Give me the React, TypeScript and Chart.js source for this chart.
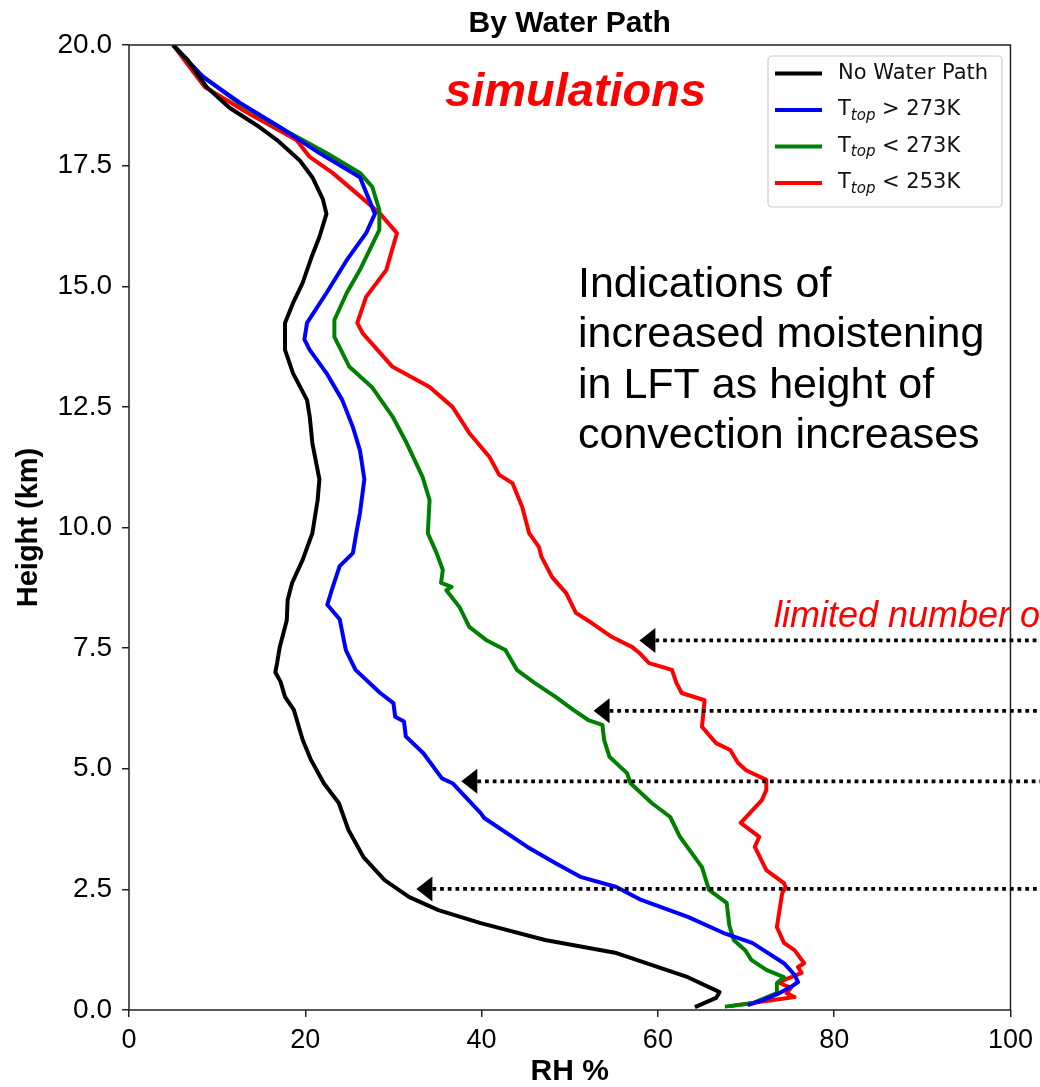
import React, { useEffect, useRef } from "react";
import { Chart, registerables } from "chart.js";

Chart.register(...registerables);

// ---- Data (RH %, height km), bottom to top ----
const blackH = [0.06, 0.25, 0.37, 0.68, 1.18, 1.45, 1.8, 2.07, 2.34, 2.69, 3.17, 3.73, 4.29, 4.7, 5.2, 5.6, 6.22, 6.49, 6.8, 7.0, 7.19, 7.52, 8.08, 8.5, 8.85, 9.33, 9.88, 10.57, 11.0, 11.75, 12.3, 12.64, 13.2, 13.68, 13.95, 14.24, 14.65, 15.07, 15.6, 16.02, 16.5, 16.8, 17.26, 17.6, 18.03, 18.3, 18.7, 19.13, 19.7, 20.0];
const blackRH = [64.2, 66.6, 67.0, 63.4, 55.3, 47.2, 39.9, 35.1, 31.8, 29.0, 26.6, 24.9, 23.8, 22.1, 20.6, 19.7, 18.7, 17.7, 17.2, 16.6, 16.8, 17.1, 17.9, 18.0, 18.5, 19.7, 20.8, 21.4, 21.6, 20.8, 20.5, 20.2, 18.6, 17.7, 17.7, 17.7, 18.6, 19.7, 20.7, 21.6, 22.4, 22.0, 20.8, 19.4, 16.8, 14.8, 11.4, 8.8, 6.6, 5.0];

const blueH = [0.1, 0.21, 0.35, 0.48, 0.58, 0.73, 0.97, 1.39, 1.6, 1.93, 2.28, 2.55, 2.76, 3.04, 3.38, 3.98, 4.08, 4.7, 4.8, 5.32, 5.67, 5.98, 6.08, 6.36, 6.57, 7.05, 7.46, 8.1, 8.4, 8.7, 9.2, 9.47, 9.9, 10.3, 11.0, 11.6, 12.08, 12.64, 13.2, 13.68, 13.9, 14.24, 14.86, 15.54, 16.1, 16.5, 17.26, 17.76, 18.3, 18.8, 19.34, 20.0];
const blueRH = [70.2, 72.0, 73.8, 75.1, 75.9, 75.5, 74.3, 70.7, 67.4, 63.4, 58.1, 55.3, 51.2, 48.4, 45.2, 40.3, 39.9, 36.7, 35.5, 33.4, 31.4, 31.2, 30.2, 30.0, 28.5, 25.7, 24.6, 23.9, 22.5, 23.0, 23.9, 25.4, 25.8, 26.2, 26.7, 26.2, 25.4, 24.2, 22.4, 20.5, 19.9, 20.2, 22.4, 24.7, 26.9, 27.9, 26.2, 21.6, 17.1, 12.6, 8.4, 5.0];

const greenH = [0.07, 0.14, 0.35, 0.56, 0.68, 0.83, 1.04, 1.24, 1.45, 1.76, 2.22, 2.49, 2.96, 3.59, 4.0, 4.29, 4.7, 4.91, 5.25, 5.6, 5.91, 6.01, 6.22, 6.49, 6.78, 7.05, 7.46, 7.67, 7.94, 8.35, 8.7, 8.77, 8.85, 9.12, 9.47, 9.88, 10.57, 11.05, 11.75, 12.3, 12.9, 13.33, 13.95, 14.3, 14.86, 15.34, 16.17, 16.58, 17.06, 17.35, 17.76, 18.3, 18.8, 19.4, 20.0];
const greenRH = [67.6, 70.7, 73.5, 73.5, 74.3, 72.3, 70.6, 69.9, 68.6, 68.1, 67.8, 65.8, 65.0, 62.5, 61.4, 59.3, 56.9, 56.5, 54.5, 53.9, 53.7, 52.1, 50.4, 48.4, 46.0, 44.0, 42.7, 40.5, 38.6, 37.5, 36.0, 36.6, 35.4, 35.6, 34.9, 33.9, 34.1, 33.3, 31.5, 29.9, 27.6, 25.0, 23.3, 23.3, 24.7, 26.2, 28.4, 28.4, 27.6, 26.2, 22.4, 17.0, 12.4, 8.0, 5.0];

const redH = [0.08, 0.27, 0.35, 0.46, 0.56, 0.62, 0.77, 0.89, 0.97, 1.24, 1.39, 1.72, 2.07, 2.42, 2.55, 2.63, 2.9, 3.38, 3.59, 3.88, 4.35, 4.56, 4.77, 4.97, 5.12, 5.39, 5.53, 5.87, 6.42, 6.57, 6.78, 7.05, 7.19, 7.4, 7.52, 7.73, 8.02, 8.23, 8.64, 8.97, 9.39, 9.6, 9.88, 10.43, 10.92, 11.09, 11.46, 11.96, 12.5, 12.91, 13.33, 14.03, 14.24, 14.78, 15.34, 15.6, 16.1, 16.52, 16.93, 17.35, 17.68, 18.03, 18.6, 19.13, 20.0];
const redRH = [68.2, 75.5, 74.6, 75.1, 73.8, 74.3, 76.3, 75.9, 76.6, 75.5, 74.3, 73.5, 73.8, 74.1, 74.5, 74.3, 72.3, 71.0, 71.5, 69.4, 71.8, 72.3, 72.3, 70.0, 69.1, 68.2, 66.6, 65.0, 65.3, 62.7, 62.1, 61.6, 59.0, 57.9, 57.1, 54.8, 52.5, 50.7, 49.6, 48.0, 46.8, 46.5, 45.4, 44.6, 43.5, 42.0, 40.9, 38.6, 36.7, 34.1, 29.9, 26.5, 25.9, 26.9, 29.2, 29.6, 30.4, 28.4, 25.8, 23.1, 20.5, 19.0, 13.4, 8.6, 5.0];

const seriesNames = ["No Water Path", "T_top > 273K", "T_top < 273K", "T_top < 253K"];
const seriesColors = ["#000000", "#0000ff", "#008000", "#ff0000"];

const xTicks = [0, 20, 40, 60, 80, 100];
const yTicks = [0, 2.5, 5, 7.5, 10, 12.5, 15, 17.5, 20];

// arrows: heights (km) and RH of arrow tips
const arrowHeights = [7.66, 6.2, 4.74, 2.51];
const arrowTipRH = [57.9, 52.7, 37.7, 32.6];

const titleText = "By Water Path";
const simText = "simulations";
const noteLines = ["Indications of", "increased moistening", "in LFT as height of", "convection increases"];
const limitedText = "limited number of";

const toPoints = (rh: number[], h: number[]) => rh.map((v, i) => ({ x: v, y: h[i] }));

export default function App() {
  const ref = useRef<HTMLCanvasElement | null>(null);

  useEffect(() => {
    if (!ref.current) return;
    const series = [
      toPoints(blackRH, blackH),
      toPoints(blueRH, blueH),
      toPoints(greenRH, greenH),
      toPoints(redRH, redH),
    ];

    const overlay = {
      id: "overlay",
      afterDraw(chart: any) {
        const { ctx, chartArea, scales } = chart;
        const W = chart.width;
        ctx.save();
        // frame
        ctx.strokeStyle = "#222";
        ctx.lineWidth = 1.5;
        ctx.strokeRect(chartArea.left, chartArea.top, chartArea.right - chartArea.left, chartArea.bottom - chartArea.top);

        // title
        ctx.fillStyle = "#000";
        ctx.font = "bold 30px 'Liberation Sans', Arial, sans-serif";
        ctx.textAlign = "center";
        ctx.textBaseline = "alphabetic";
        ctx.fillText(titleText, (chartArea.left + chartArea.right) / 2, 32);

        // simulations
        ctx.fillStyle = "#ff0000";
        ctx.font = "italic bold 47px 'Liberation Sans', Arial, sans-serif";
        ctx.textAlign = "left";
        ctx.fillText(simText, 445, 106);

        // note text
        ctx.fillStyle = "#000";
        ctx.font = "43px 'Liberation Sans', Arial, sans-serif";
        noteLines.forEach((t, i) => ctx.fillText(t, 578, 297 + i * 50.3));

        // limited number of
        ctx.fillStyle = "#ff0000";
        ctx.font = "italic 36px 'Liberation Sans', Arial, sans-serif";
        ctx.fillText(limitedText, 774, 627);

        // arrows
        arrowHeights.forEach((h, i) => {
          const y = scales.y.getPixelForValue(h);
          const tip = scales.x.getPixelForValue(arrowTipRH[i]);
          ctx.strokeStyle = "#000";
          ctx.lineWidth = 3.8;
          ctx.setLineDash([3.8, 3.9]);
          ctx.beginPath();
          ctx.moveTo(tip + 16, y);
          ctx.lineTo(W, y);
          ctx.stroke();
          ctx.setLineDash([]);
          ctx.fillStyle = "#000";
          ctx.beginPath();
          ctx.moveTo(tip, y);
          ctx.lineTo(tip + 16, y - 12.5);
          ctx.lineTo(tip + 16, y + 12.5);
          ctx.closePath();
          ctx.fill();
        });

        // legend
        const lx = 768, ly = 56, lw = 234, lh = 151;
        ctx.fillStyle = "rgba(255,255,255,0.85)";
        ctx.strokeStyle = "#cccccc";
        ctx.lineWidth = 1.2;
        ctx.beginPath();
        (ctx as any).roundRect(lx, ly, lw, lh, 4);
        ctx.fill();
        ctx.stroke();
        seriesNames.forEach((name, i) => {
          const ry = 73.5 + i * 36.5;
          ctx.strokeStyle = seriesColors[i];
          ctx.lineWidth = 4;
          ctx.beginPath();
          ctx.moveTo(775, ry);
          ctx.lineTo(822, ry);
          ctx.stroke();
          ctx.fillStyle = "#111";
          ctx.textBaseline = "middle";
          ctx.textAlign = "left";
          const base = "21px 'DejaVu Sans', sans-serif";
          const m = name.match(/^(\w)_(\w+)(.*)$/);
          if (m) {
            ctx.font = base;
            ctx.fillText(m[1], 838, ry);
            let x = 838 + ctx.measureText(m[1]).width;
            ctx.font = "italic 15px 'DejaVu Sans', sans-serif";
            ctx.fillText(m[2], x, ry + 6);
            x += ctx.measureText(m[2]).width;
            ctx.font = base;
            ctx.fillText(m[3], x, ry);
          } else {
            ctx.font = base;
            ctx.fillText(name, 838, ry);
          }
        });
        ctx.restore();
      },
    };

    const chart = new Chart(ref.current, {
      type: "scatter",
      data: {
        datasets: series.map((pts, i) => ({
          label: seriesNames[i],
          data: pts,
          showLine: true,
          borderColor: seriesColors[i],
          backgroundColor: seriesColors[i],
          borderWidth: 4,
          borderJoinStyle: "round",
          pointRadius: 0,
          tension: 0,
        })),
      },
      options: {
        animation: false,
        responsive: false,
        devicePixelRatio: 1,
        layout: { padding: { top: 45, right: 28, left: 0, bottom: 0 } },
        plugins: { legend: { display: false }, tooltip: { enabled: false }, title: { display: false } },
        scales: {
          x: {
            type: "linear",
            min: 0,
            max: 100,
            afterFit: (s: any) => { s.height = 77; },
            afterBuildTicks: (s: any) => { s.ticks = xTicks.map((v) => ({ value: v })); },
            ticks: { color: "#000", font: { family: "'Liberation Sans', Arial, sans-serif", size: 27 }, padding: 7, maxRotation: 0 },
            grid: { drawOnChartArea: false, drawTicks: true, tickLength: 7, color: "#222", lineWidth: 1.5 },
            border: { display: false },
            title: { display: true, text: "RH %", color: "#000", font: { family: "'Liberation Sans', Arial, sans-serif", size: 30, weight: "bold", lineHeight: 1 }, padding: { top: 0, bottom: 0 } },
          },
          y: {
            type: "linear",
            min: 0,
            max: 20,
            afterFit: (s: any) => { s.width = 129; },
            afterBuildTicks: (s: any) => { s.ticks = yTicks.map((v) => ({ value: v })); },
            ticks: { color: "#000", font: { family: "'Liberation Sans', Arial, sans-serif", size: 28 }, padding: 10, callback: (v: any) => Number(v).toFixed(1) },
            grid: { drawOnChartArea: false, drawTicks: true, tickLength: 7, color: "#222", lineWidth: 1.5 },
            border: { display: false },
            title: { display: true, text: "Height (km)", color: "#000", font: { family: "'Liberation Sans', Arial, sans-serif", size: 29, weight: "bold", lineHeight: 1 }, padding: { top: 14, bottom: 0 } },
          },
        },
      },
      plugins: [overlay],
    } as any);
    return () => chart.destroy();
  }, []);

  return (
    <div style={{ position: "absolute", left: 0, top: 0, width: 1040, height: 1087, background: "#fff" }}>
      <canvas ref={ref} width={1040} height={1087} style={{ display: "block", width: 1040, height: 1087 }} />
    </div>
  );
}
